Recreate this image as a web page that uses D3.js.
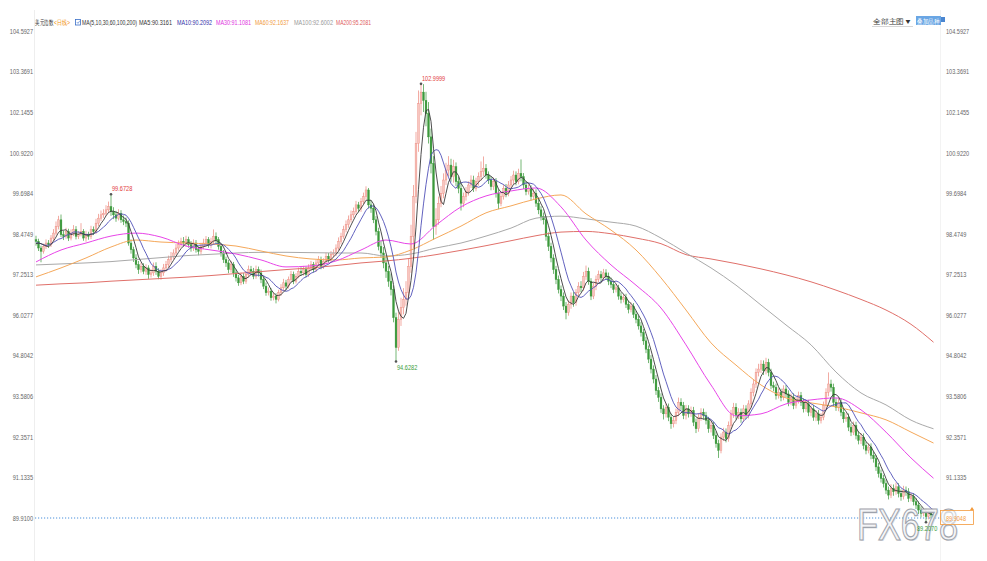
<!DOCTYPE html>
<html><head><meta charset="utf-8">
<script src="https://cdn.jsdelivr.net/npm/d3@7"></script>
<style>body{margin:0;background:#fff;}svg{display:block;}</style>
</head><body><svg id="c" width="987" height="561"></svg>
<script>
// ---------------- DATA ----------------
const opens=[98.30,98.25,98.05,97.95,98.10,98.20,98.15,98.35,98.50,98.70,
98.90,98.45,98.40,98.55,98.35,98.50,98.60,98.40,98.45,98.55,
98.35,98.45,98.40,98.60,98.55,98.80,98.95,99.05,99.10,99.20,
99.30,99.15,99.05,98.95,99.10,98.90,98.85,98.80,98.20,98.00,
97.75,97.55,97.40,97.50,97.35,97.45,97.25,97.30,97.50,97.35,
97.20,97.30,97.45,97.55,97.70,97.80,97.90,98.05,98.15,98.25,
98.20,98.30,98.15,98.05,98.20,98.00,97.95,98.10,98.20,98.30,
98.15,98.25,98.40,98.30,98.10,97.90,97.70,97.60,97.40,97.55,
97.30,97.15,97.00,97.20,97.05,97.25,97.40,97.35,97.20,97.40,
97.30,97.10,96.90,96.70,96.75,96.55,96.60,96.50,96.70,96.85,
97.00,96.90,97.10,97.25,97.05,97.20,97.35,97.30,97.40,97.25,
97.45,97.55,97.40,97.60,97.70,97.50,97.65,97.80,97.70,97.85,
97.90,98.05,98.25,98.40,98.60,98.75,98.90,99.05,99.15,99.35,
99.25,99.45,99.60,99.80,99.35,99.25,98.90,98.55,98.10,97.90,
97.60,97.35,97.05,96.80,95.95,95.05,95.90,96.25,96.50,96.70,
97.50,98.40,99.60,101.20,102.40,102.75,102.50,102.10,101.40,100.60,
98.70,98.90,99.40,99.70,100.10,100.40,100.55,100.20,100.50,100.05,
99.85,99.40,99.60,99.75,99.95,100.10,99.85,100.05,100.20,100.35,
100.45,100.25,100.10,99.90,100.05,99.70,99.40,99.60,99.85,99.70,
99.95,100.10,100.25,100.05,100.30,100.20,99.95,99.75,99.85,99.60,
99.70,99.40,99.20,99.00,98.90,98.40,98.10,97.75,97.40,97.10,
96.80,96.60,96.30,96.10,96.35,96.60,96.40,96.70,96.90,96.85,
97.20,97.35,97.05,96.60,96.90,97.10,97.25,97.15,97.30,97.20,
97.05,96.95,96.80,96.85,96.60,96.50,96.55,96.35,96.20,96.30,
96.05,95.90,95.70,95.50,95.25,95.00,94.70,94.40,94.10,93.75,
93.55,93.20,93.05,93.25,92.95,92.75,92.85,93.10,93.40,93.30,
93.00,93.20,93.05,93.15,92.80,92.60,92.95,93.10,93.00,92.85,
92.60,92.70,92.40,92.15,91.95,92.35,92.50,92.30,92.70,93.05,
93.25,93.00,93.10,92.90,93.20,93.00,93.35,93.70,93.95,94.30,
94.40,94.55,94.35,94.60,94.30,93.90,93.85,93.60,93.70,93.55,
93.80,93.65,93.40,93.55,93.30,93.45,93.60,93.40,93.20,93.35,
93.10,93.20,92.95,93.05,92.85,92.95,93.30,93.70,93.95,93.85,
93.40,93.25,93.40,93.10,92.90,92.95,92.65,92.50,92.70,92.40,
92.25,92.35,92.10,91.95,92.05,91.80,91.70,91.45,91.25,91.10,
90.95,90.75,90.60,90.80,90.70,90.85,90.65,90.55,90.75,90.70,
90.50,90.55,90.40,90.30,90.15,90.05,90.10,89.95,90.05,90.00];

const closes=[98.25,98.05,97.95,98.10,98.20,98.15,98.35,98.50,98.70,98.90,
98.45,98.40,98.55,98.35,98.50,98.60,98.40,98.45,98.55,98.35,
98.45,98.40,98.60,98.55,98.80,98.95,99.05,99.10,99.20,99.30,
99.15,99.05,98.95,99.10,98.90,98.85,98.80,98.20,98.00,97.75,
97.55,97.40,97.50,97.35,97.45,97.25,97.30,97.50,97.35,97.20,
97.30,97.45,97.55,97.70,97.80,97.90,98.05,98.15,98.25,98.20,
98.30,98.15,98.05,98.20,98.00,97.95,98.10,98.20,98.30,98.15,
98.25,98.40,98.30,98.10,97.90,97.70,97.60,97.40,97.55,97.30,
97.15,97.00,97.20,97.05,97.25,97.40,97.35,97.20,97.40,97.30,
97.10,96.90,96.70,96.75,96.55,96.60,96.50,96.70,96.85,97.00,
96.90,97.10,97.25,97.05,97.20,97.35,97.30,97.40,97.25,97.45,
97.55,97.40,97.60,97.70,97.50,97.65,97.80,97.70,97.85,97.90,
98.05,98.25,98.40,98.60,98.75,98.90,99.05,99.15,99.35,99.25,
99.45,99.60,99.80,99.35,99.25,98.90,98.55,98.10,97.90,97.60,
97.35,97.05,96.80,95.95,95.05,95.90,96.25,96.50,96.70,97.50,
98.40,99.60,101.20,102.40,102.75,102.50,102.10,101.40,100.60,98.70,
98.90,99.40,99.70,100.10,100.40,100.55,100.20,100.50,100.05,99.85,
99.40,99.60,99.75,99.95,100.10,99.85,100.05,100.20,100.35,100.45,
100.25,100.10,99.90,100.05,99.70,99.40,99.60,99.85,99.70,99.95,
100.10,100.25,100.05,100.30,100.20,99.95,99.75,99.85,99.60,99.70,
99.40,99.20,99.00,98.90,98.40,98.10,97.75,97.40,97.10,96.80,
96.60,96.30,96.10,96.35,96.60,96.40,96.70,96.90,96.85,97.20,
97.35,97.05,96.60,96.90,97.10,97.25,97.15,97.30,97.20,97.05,
96.95,96.80,96.85,96.60,96.50,96.55,96.35,96.20,96.30,96.05,
95.90,95.70,95.50,95.25,95.00,94.70,94.40,94.10,93.75,93.55,
93.20,93.05,93.25,92.95,92.75,92.85,93.10,93.40,93.30,93.00,
93.20,93.05,93.15,92.80,92.60,92.95,93.10,93.00,92.85,92.60,
92.70,92.40,92.15,91.95,92.35,92.50,92.30,92.70,93.05,93.25,
93.00,93.10,92.90,93.20,93.00,93.35,93.70,93.95,94.30,94.40,
94.55,94.35,94.60,94.30,93.90,93.85,93.60,93.70,93.55,93.80,
93.65,93.40,93.55,93.30,93.45,93.60,93.40,93.20,93.35,93.10,
93.20,92.95,93.05,92.85,92.95,93.30,93.70,93.95,93.85,93.40,
93.25,93.40,93.10,92.90,92.95,92.65,92.50,92.70,92.40,92.25,
92.35,92.10,91.95,92.05,91.80,91.70,91.45,91.25,91.10,90.95,
90.75,90.60,90.80,90.70,90.85,90.65,90.55,90.75,90.70,90.50,
90.55,90.40,90.30,90.15,90.05,90.10,89.95,90.05,90.00,89.95];

const highs=[98.42,98.33,98.12,98.18,98.31,98.29,98.44,98.62,98.85,99.02,
99.06,98.58,98.66,98.63,98.61,98.74,98.71,98.56,98.80,98.62,
98.57,98.54,98.72,98.70,98.93,99.08,99.18,99.22,99.34,99.45,
99.67,99.28,99.17,99.22,99.19,99.03,98.97,98.88,98.31,98.09,
97.86,97.66,97.61,97.59,97.56,97.53,97.41,97.61,97.62,97.44,
97.41,97.57,97.66,97.82,97.93,98.01,98.17,98.28,98.36,98.38,
98.42,98.39,98.26,98.31,98.29,98.10,98.21,98.33,98.41,98.38,
98.36,98.61,98.52,98.38,98.19,97.99,97.79,97.69,97.66,97.63,
97.41,97.24,97.31,97.29,97.36,97.52,97.51,97.45,97.52,97.49,
97.40,97.19,97.01,96.86,96.84,96.71,96.69,96.79,96.96,97.12,
97.09,97.19,97.36,97.34,97.29,97.46,97.47,97.51,97.49,97.56,
97.66,97.63,97.69,97.81,97.79,97.74,97.91,97.90,97.96,98.01,
98.16,98.37,98.51,98.72,98.88,99.03,99.18,99.27,99.47,99.44,
99.56,99.72,99.91,99.86,99.49,99.36,99.01,98.66,98.27,98.08,
97.78,97.51,97.28,96.91,96.10,96.12,96.55,96.84,97.05,97.72,
98.75,99.95,101.55,102.80,103.00,102.99,102.76,102.45,101.65,100.82,
99.25,99.60,99.92,100.30,100.62,100.82,100.74,100.71,100.63,100.20,
100.02,99.72,99.89,100.06,100.24,100.23,100.17,100.33,100.66,100.81,
100.58,100.36,100.22,100.17,100.16,99.82,99.73,99.96,99.98,100.07,
100.22,100.38,100.36,100.44,100.72,100.31,100.06,99.97,99.94,99.83,
99.82,99.56,99.31,99.12,99.01,98.52,98.21,97.86,97.51,97.22,
96.92,96.71,96.42,96.47,96.71,96.72,96.81,97.02,97.05,97.33,
97.52,97.46,97.14,97.01,97.22,97.37,97.36,97.42,97.41,97.31,
97.16,97.04,96.96,96.94,96.71,96.66,96.67,96.46,96.41,96.39,
96.16,96.01,95.82,95.61,95.37,95.11,94.82,94.51,94.22,93.86,
93.67,93.31,93.37,93.36,93.06,92.97,93.21,93.54,93.52,93.41,
93.32,93.31,93.27,93.26,92.91,93.07,93.22,93.21,93.11,92.96,
92.82,92.81,92.52,92.27,92.46,92.63,92.61,92.82,93.17,93.38,
93.37,93.22,93.21,93.32,93.31,93.46,93.82,94.07,94.42,94.56,
94.67,94.66,94.74,94.71,94.41,94.02,93.96,93.82,93.81,93.91,
93.92,93.76,93.66,93.67,93.56,93.72,93.71,93.52,93.46,93.47,
93.31,93.32,93.16,93.17,93.07,93.42,93.82,94.30,94.08,93.96,
93.52,93.51,93.51,93.21,93.07,93.06,92.77,92.82,92.81,92.52,
92.47,92.46,92.21,92.17,92.16,91.92,91.81,91.57,91.37,91.21,
91.07,90.86,90.93,90.92,90.98,90.96,90.77,90.88,90.86,90.81,
90.67,90.66,90.51,90.41,90.26,90.21,90.19,90.16,90.12,90.09];

const lows=[98.12,97.96,97.62,97.88,98.02,98.05,98.08,98.27,98.43,98.61,
98.38,98.29,98.33,98.26,98.28,98.41,98.31,98.32,98.40,98.27,
98.24,98.30,98.32,98.44,98.47,98.71,98.86,98.96,99.02,99.11,
99.02,98.92,98.84,98.88,98.81,98.74,98.68,98.12,97.88,97.63,
97.44,97.27,97.31,97.26,97.24,97.12,97.16,97.21,97.24,97.11,
97.09,97.21,97.34,97.46,97.61,97.71,97.83,97.97,98.06,98.09,
98.10,98.06,97.94,97.96,97.91,97.83,97.86,98.02,98.11,98.06,
98.04,98.16,98.19,98.00,97.79,97.60,97.48,97.29,97.31,97.18,
97.04,96.91,96.93,96.96,96.97,97.16,97.24,97.11,97.12,97.19,
96.99,96.81,96.61,96.62,96.46,96.47,96.38,96.44,96.61,96.76,
96.79,96.83,97.02,96.96,96.98,97.14,97.21,97.22,97.16,97.18,
97.36,97.31,97.33,97.52,97.41,97.42,97.58,97.61,97.62,97.77,
97.81,97.97,98.16,98.33,98.52,98.66,98.82,98.96,99.06,99.13,
99.14,99.36,99.51,99.24,99.11,98.80,98.43,97.98,97.76,97.44,
97.15,96.88,96.62,95.81,94.63,94.95,95.70,96.05,96.31,96.52,
97.30,98.05,99.40,100.95,102.05,102.15,101.72,101.20,100.30,98.30,
98.45,98.75,99.28,99.55,99.95,100.22,100.05,100.02,99.92,99.70,
99.18,99.28,99.48,99.63,99.86,99.74,99.76,99.93,100.08,100.22,
100.14,99.98,99.79,99.80,99.57,99.22,99.31,99.51,99.58,99.61,
99.84,99.98,99.94,99.97,100.06,99.83,99.64,99.66,99.48,99.51,
99.29,99.07,98.88,98.76,98.27,97.96,97.62,97.27,96.96,96.68,
96.45,96.18,95.90,96.01,96.22,96.28,96.31,96.59,96.72,96.76,
97.09,96.94,96.48,96.51,96.78,97.01,97.04,97.06,97.09,96.93,
96.84,96.69,96.71,96.49,96.38,96.41,96.24,96.08,96.11,95.94,
95.78,95.59,95.38,95.13,94.88,94.58,94.27,93.97,93.62,93.41,
93.08,92.88,92.94,92.83,92.60,92.64,92.74,92.98,93.17,92.89,
92.88,92.94,92.96,92.68,92.47,92.51,92.84,92.88,92.73,92.48,
92.49,92.29,92.03,91.72,91.86,92.23,92.19,92.21,92.58,92.93,
92.88,92.89,92.78,92.81,92.89,92.91,93.24,93.58,93.83,94.18,
94.28,94.22,94.24,94.18,93.79,93.73,93.48,93.51,93.43,93.46,
93.54,93.28,93.31,93.19,93.21,93.36,93.29,93.09,93.11,92.98,
92.98,92.84,92.83,92.73,92.76,92.86,93.19,93.58,93.72,93.28,
93.14,93.13,92.98,92.78,92.81,92.53,92.38,92.41,92.28,92.13,
92.14,91.98,91.83,91.86,91.68,91.58,91.33,91.13,90.98,90.83,
90.63,90.47,90.51,90.58,90.61,90.53,90.43,90.47,90.58,90.39,
90.41,90.29,90.18,90.03,89.93,89.96,89.78,89.87,89.90,89.86];

// closes of the days just before the visible window (needed for MA5 / MA10)
const historyCloses=[98.00,98.20,98.45,98.35,98.10,97.95,98.05,98.25,98.40];

// long moving averages at these candle indices
const maIdx=[0,10,20,30,40,50,60,70,80,90,100,110,120,130,140,150,160,170,180,190,200,210,220,230,240,250,260,270,280,290,300,310,320,330,340,350,359];
const ma30=[97.63,97.99,98.20,98.41,98.50,98.38,98.11,97.99,97.87,97.69,97.48,97.51,97.66,97.99,98.29,98.17,98.74,99.29,99.62,99.77,99.86,99.29,98.29,97.54,96.93,96.24,95.13,93.92,92.99,93.05,93.35,93.47,93.53,93.17,92.50,91.72,91.11];
const ma60=[97.18,97.45,97.75,98.08,98.29,98.23,98.20,98.17,98.11,97.96,97.81,97.72,97.69,97.75,97.78,97.99,98.35,98.71,99.11,99.32,99.53,99.65,99.08,98.59,97.99,97.15,96.18,95.19,94.52,93.92,93.53,93.38,93.26,93.08,92.87,92.50,92.17];
const ma100=[97.54,97.57,97.60,97.64,97.70,97.76,97.82,97.86,97.90,97.92,97.92,97.91,97.90,97.90,97.81,97.87,98.05,98.20,98.41,98.65,98.95,99.01,98.93,98.83,98.71,98.35,97.90,97.45,96.93,96.33,95.73,95.13,94.31,93.68,93.32,92.86,92.60];
const ma200=[96.93,96.97,97.00,97.05,97.09,97.13,97.17,97.22,97.28,97.34,97.40,97.45,97.52,97.60,97.66,97.74,97.85,97.98,98.12,98.27,98.42,98.53,98.55,98.48,98.35,98.18,97.85,97.72,97.58,97.42,97.24,97.03,96.78,96.50,96.18,95.75,95.21];

const yTickLabels=["104.5927","103.3691","102.1455","100.9220","99.6984","98.4749","97.2513","96.0277","94.8042","93.5806","92.3571","91.1335","89.9100"];

const legendTexts=["美元指数","<日线>","MA(5,10,30,60,100,200)","MA5:90.3161","MA10:90.2092","MA30:91.1081","MA60:92.1637","MA100:92.6002","MA200:95.2081"];
const annIdx=[30,154,144,356];
const annText=["99.6728","102.9999","94.6282","89.2070"];
const annKind=["high","high","low","low"];
const currentPrice=89.91;
const priceBoxText="89.9048";
const topButtons=["全部主图▼","叠加品种"];
const watermark="FX678";

// ---------------- DRAWING ----------------
const svg=d3.select("#c");
const FONT="'Liberation Sans Narrow','Arial Narrow','Liberation Sans',Arial,sans-serif";
const y=d3.scaleLinear().domain([+yTickLabels[yTickLabels.length-1],+yTickLabels[0]]).range([518,31]);
const x=d3.scaleLinear().domain([0,closes.length-1]).range([36,933.5]);

const UP_STROKE="#ec867b", UP_FILL="#f7c6bf", DOWN="#3b983b";

// frame lines
svg.append("line").attr("x1",34.5).attr("x2",34.5).attr("y1",10).attr("y2",561).attr("stroke","#eeeeee");
svg.append("line").attr("x1",940.5).attr("x2",940.5).attr("y1",10).attr("y2",561).attr("stroke","#f3f3f3");

// axes (right axis leaves the last level to the price box)
const tickVals=yTickLabels.map(Number);
const la=svg.append("g").attr("transform","translate(33,0)")
  .call(d3.axisLeft(y).tickValues(tickVals).tickFormat((d,i)=>yTickLabels[i]).tickSize(0).tickPadding(0));
const ra=svg.append("g").attr("transform","translate(946,0)")
  .call(d3.axisRight(y).tickValues(tickVals.slice(0,-1)).tickFormat((d,i)=>yTickLabels[i]).tickSize(0).tickPadding(0));
[la,ra].forEach(a=>{
  a.select(".domain").remove();
  a.selectAll("text").attr("font-family",FONT).attr("font-size",7.2).attr("fill","#666")
   .attr("textLength",function(){return this.textContent.length*2.9;}).attr("lengthAdjust","spacingAndGlyphs");
});

// current price dotted line
svg.append("line").attr("x1",35).attr("x2",940).attr("y1",y(currentPrice)).attr("y2",y(currentPrice))
  .attr("stroke","#4a90dc").attr("stroke-width",1).attr("stroke-dasharray","1.2,1.8");

// candles
const data=closes.map((c,i)=>({i,o:opens[i],h:highs[i],l:lows[i],c}));
const cg=svg.append("g");
cg.selectAll("line").data(data).join("line")
  .attr("x1",d=>x(d.i)).attr("x2",d=>x(d.i)).attr("y1",d=>y(d.h)).attr("y2",d=>y(d.l))
  .attr("stroke",d=>d.c>=d.o?UP_STROKE:DOWN).attr("stroke-width",0.7);
const bw=1.8;
cg.selectAll("rect").data(data).join("rect")
  .attr("x",d=>x(d.i)-bw/2).attr("width",bw)
  .attr("y",d=>y(Math.max(d.o,d.c))).attr("height",d=>Math.max(0.8,Math.abs(y(d.o)-y(d.c))))
  .attr("fill",d=>d.c>=d.o?UP_FILL:DOWN).attr("stroke",d=>d.c>=d.o?UP_STROKE:DOWN).attr("stroke-width",0.4);

// short moving averages from closes
const allC=historyCloses.concat(closes);
const sma=n=>closes.map((_,i)=>{const j=i+historyCloses.length;return d3.mean(allC.slice(j-n+1,j+1));});
const ma5=sma(5), ma10=sma(10);
const lineI=d3.line().x((d,i)=>x(i)).y(d=>y(d));
const lineS=d3.line().curve(d3.curveMonotoneX).x((d,k)=>x(maIdx[k])).y(d=>y(d));
const lg=svg.append("g").attr("fill","none");
lg.append("path").attr("d",lineS(ma200)).attr("stroke","#e0706a").attr("stroke-width",1);
lg.append("path").attr("d",lineS(ma100)).attr("stroke","#a9a9a9").attr("stroke-width",1);
lg.append("path").attr("d",lineS(ma60)).attr("stroke","#f5a85a").attr("stroke-width",1);
lg.append("path").attr("d",lineS(ma30)).attr("stroke","#e845e8").attr("stroke-width",1);
lg.append("path").attr("d",lineI(ma10)).attr("stroke","#5050b8").attr("stroke-width",0.9);
lg.append("path").attr("d",lineI(ma5)).attr("stroke","#3a3a3a").attr("stroke-width",0.9);

// watermark
svg.append("text").attr("x",858).attr("y",541).attr("font-family","'Liberation Sans',Arial,sans-serif")
  .attr("font-size",45).attr("fill","#c9ccd2").attr("fill-opacity",0.6)
  .attr("textLength",101).attr("lengthAdjust","spacingAndGlyphs").text(watermark);
svg.append("text").attr("x",857).attr("y",540).attr("font-family","'Liberation Sans',Arial,sans-serif")
  .attr("font-size",45).attr("fill","#f8f8fa").attr("fill-opacity",0.85).attr("stroke","#9ea3ac").attr("stroke-width",1.2)
  .attr("textLength",101).attr("lengthAdjust","spacingAndGlyphs").text(watermark);

// price box
const pby=y(currentPrice);
svg.append("rect").attr("x",940.5).attr("y",pby-7.5).attr("width",33).attr("height",14).attr("fill","#fff").attr("fill-opacity",0.5)
  .attr("stroke","#f39a3c").attr("stroke-width",0.8);
svg.append("text").attr("x",946).attr("y",pby+3).attr("font-family",FONT).attr("font-size",7.5).attr("fill","#f39a3c")
  .attr("textLength",20).attr("lengthAdjust","spacingAndGlyphs").text(priceBoxText);
svg.append("path").attr("d",`M970,${pby-8} l2,-3 l2,3 z`).attr("fill","#f39a3c");

// annotations (extreme marks)
annIdx.forEach((idx,k)=>{
  const isHigh=annKind[k]==="high";
  const px=x(idx), py=y(isHigh?highs[idx]:lows[idx]);
  svg.append("circle").attr("cx",px).attr("cy",py).attr("r",1.3).attr("fill","#555");
  const last=idx>closes.length-10;
  svg.append("text").attr("x",last?px-9:px+1).attr("y",isHigh?py-3:py+9)
    .attr("font-family",FONT).attr("font-size",7.5).attr("fill",isHigh?"#e23b3b":"#3a9e3a")
    .attr("textLength",annText[k].length*2.9).attr("lengthAdjust","spacingAndGlyphs").text(annText[k]);
});

// legend
const legendX=[35,54,82,139,177,216,255,294,336];
const legendW=[18,16,55,33,35,35,34,39,35];
const legendC=["#333","#f08a00","#333","#333","#2f2fa8","#e030e0","#f09a40","#999","#e05a5a"];
legendTexts.forEach((t,i)=>{
  svg.append("text").attr("x",legendX[i]).attr("y",25).attr("font-family",FONT).attr("font-size",7.2)
    .attr("fill",legendC[i]).attr("textLength",legendW[i]).attr("lengthAdjust","spacingAndGlyphs").text(t);
});
svg.append("rect").attr("x",75.5).attr("y",19.5).attr("width",5).attr("height",5.5).attr("fill","#fff").attr("stroke","#3a6fc8").attr("stroke-width",0.8);
svg.append("path").attr("d","M76.8,22 l1.2,1.4 l1.8,-2.6").attr("fill","none").attr("stroke","#3a6fc8").attr("stroke-width",0.6);

// top-right buttons
svg.append("text").attr("x",873).attr("y",24).attr("font-family",FONT).attr("font-size",7.2).attr("fill","#333")
  .attr("textLength",39).attr("lengthAdjust","spacingAndGlyphs").text(topButtons[0]);
svg.append("line").attr("x1",872).attr("x2",913).attr("y1",26.5).attr("y2",26.5).attr("stroke","#bbb").attr("stroke-width",0.6);
svg.append("rect").attr("x",916).attr("y",16).attr("width",25).attr("height",9).attr("fill","#6aa6e4");
svg.append("text").attr("x",917).attr("y",23.5).attr("font-family",FONT).attr("font-size",7).attr("fill","#fff")
  .attr("textLength",22).attr("lengthAdjust","spacingAndGlyphs").text(topButtons[1]);
svg.append("rect").attr("x",941).attr("y",17).attr("width",4).attr("height",5).attr("fill","#4a86d0");
</script></body></html>
